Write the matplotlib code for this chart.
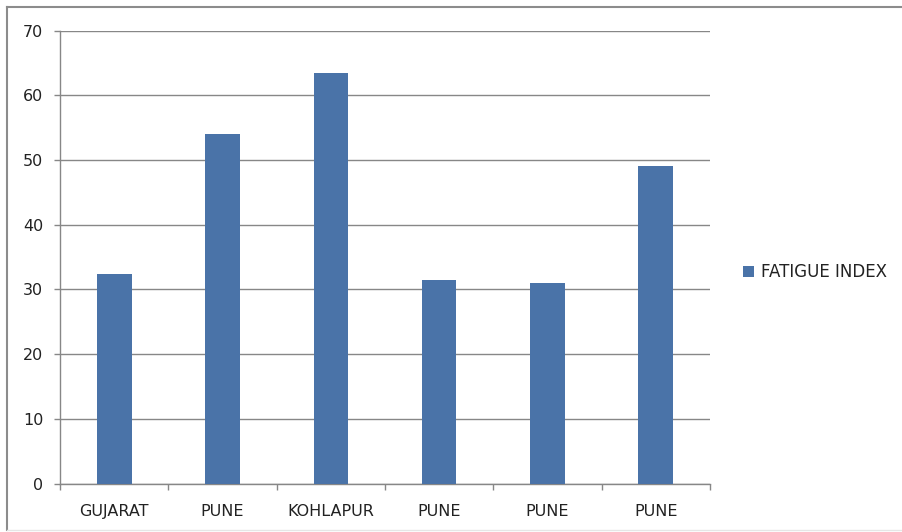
import matplotlib
matplotlib.use("Agg")
import matplotlib.pyplot as plt
from matplotlib.lines import Line2D
from matplotlib.patches import Patch

# Fatigue index by location
categories = ["GUJARAT", "PUNE", "KOHLAPUR", "PUNE", "PUNE", "PUNE"]
fatigue_index = [32.4, 54.0, 63.5, 31.5, 31.0, 49.0]
y_ticks = [0, 10, 20, 30, 40, 50, 60, 70]
series_name = "FATIGUE INDEX"

BAR_COLOR = "#4A73A8"
AXIS_GRAY = "#878787"
TEXT_COLOR = "#222222"

plt.rcParams["font.family"] = ["DejaVu Sans"]

W, H = 902, 532
fig = plt.figure(figsize=(W / 100, H / 100), dpi=100)
fig.patch.set_facecolor("white")

# plot area in pixel terms
left, right, bottom, top = 60, 710, 483.5, 30.5
ax = fig.add_axes([left / W, 1 - bottom / H, (right - left) / W, (bottom - top) / H])

x = list(range(len(categories)))
ax.bar(x, fatigue_index, width=0.32, color=BAR_COLOR, zorder=3)

ax.set_xlim(-0.5, len(categories) - 0.5)
ax.set_ylim(y_ticks[0], y_ticks[-1])
ax.set_yticks(y_ticks)
ax.set_yticklabels([str(v) for v in y_ticks])

ax.set_xticks(x)
ax.set_xticklabels(categories)
ax.set_xticks([i - 0.5 for i in range(len(categories) + 1)], minor=True)

ax.yaxis.grid(True, color=AXIS_GRAY, linewidth=1.0, zorder=0)
ax.set_axisbelow(True)

for side in ("top", "right"):
    ax.spines[side].set_visible(False)
for side in ("left", "bottom"):
    ax.spines[side].set_color(AXIS_GRAY)
    ax.spines[side].set_linewidth(1.0)

ax.tick_params(axis="y", which="major", length=4.5, width=1.0, color=AXIS_GRAY,
               pad=7.5, labelsize=11.5, labelcolor=TEXT_COLOR)
ax.tick_params(axis="x", which="major", length=0, pad=14.5,
               labelsize=11.5, labelcolor=TEXT_COLOR)
ax.tick_params(axis="x", which="minor", length=4.5, width=1.0, color=AXIS_GRAY,
               direction="out")

# legend to the right of the plot area
handle = Patch(facecolor=BAR_COLOR, edgecolor="none")
fig.legend([handle], [series_name], loc="center left",
           bbox_to_anchor=(743 / W, 1 - 272 / H), frameon=False,
           handlelength=0.65, handleheight=0.65, handletextpad=0.45,
           borderpad=0, borderaxespad=0, fontsize=12, labelcolor=TEXT_COLOR)

# chart-area frame along the top and left edges
frame_kw = dict(transform=fig.transFigure, color="#8C8C8C", linewidth=1.5)
fig.add_artist(Line2D([7 / W, 1.0], [1 - 7 / H, 1 - 7 / H], **frame_kw))
fig.add_artist(Line2D([7 / W, 7 / W], [1 - 7 / H, 1 - 530 / H], **frame_kw))
fig.add_artist(Line2D([7 / W, 1.0], [1 - 530 / H, 1 - 530 / H],
                      transform=fig.transFigure, color="#E6E6E6", linewidth=1.0))

fig.savefig("out.png", dpi=100, facecolor="white")
